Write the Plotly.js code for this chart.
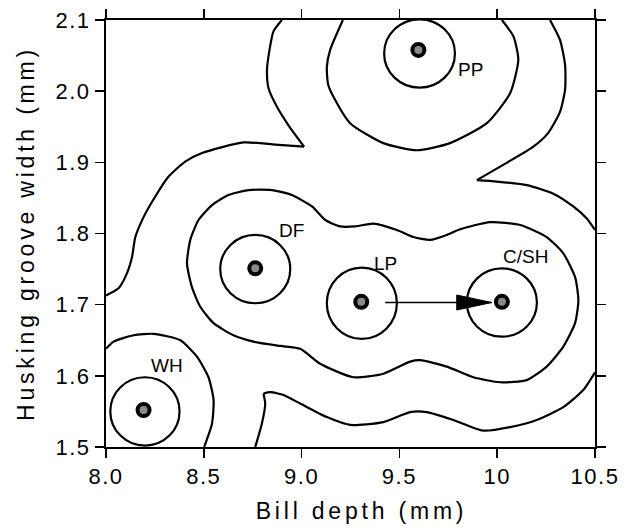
<!DOCTYPE html>
<html>
<head>
<meta charset="utf-8">
<script src="https://cdn.plot.ly/plotly-3.0.1.min.js"></script>
<style>
  html, body { margin: 0; padding: 0; background: #fff; }
  #chart { width: 624px; height: 531px; }
  .xtitle, .ytitle { letter-spacing: 3.8px; }
  .xtitle { transform: translate(11px, 0px); }
  .xtick text, .ytick text { letter-spacing: 1.5px; }
</style>
</head>
<body>
<div id="chart"></div>
<script>
// ---- Data ----
const popNames = ['PP', 'DF', 'LP', 'C/SH', 'WH'];
const popX = [9.597, 8.763, 9.305, 10.024, 8.192];
const popY = [2.058, 1.751, 1.704, 1.704, 1.552];
const labelX = [9.862, 8.947, 9.429, 10.145, 8.312];
const labelY = [2.031, 1.804, 1.758, 1.767, 1.614];

// innermost contour rings round each population
const ringCx = [9.603, 8.763, 9.308, 10.024, 8.199];
const ringCy = [2.053, 1.750, 1.702, 1.703, 1.550];
const ringRx = [0.181, 0.179, 0.179, 0.179, 0.177];
const ringRy = [0.048, 0.048, 0.050, 0.048, 0.048];

// outer contour, left piece (top edge -> cusp -> left edge)
const outerLeftX = [8.899, 8.856, 8.836, 8.823, 8.831, 8.874, 8.933, 9.013, 8.865, 8.703, 8.491, 8.405, 8.320, 8.252, 8.192, 8.150, 8.133, 8.107, 8.064, 8.000];
const outerLeftY = [2.100, 2.084, 2.058, 2.030, 2.004, 1.978, 1.952, 1.922, 1.925, 1.928, 1.913, 1.901, 1.880, 1.852, 1.823, 1.795, 1.767, 1.744, 1.723, 1.713];

// outer contour, right piece (top edge -> cusp -> right edge)
const outerRightX = [10.270, 10.321, 10.347, 10.347, 10.321, 10.260, 10.185, 10.015, 9.896, 9.998, 10.151, 10.287, 10.389, 10.458, 10.500];
const outerRightY = [2.100, 2.072, 2.037, 2.002, 1.971, 1.941, 1.922, 1.894, 1.875, 1.873, 1.868, 1.856, 1.838, 1.821, 1.805];

// middle contour round PP (top edge -> top edge)
const ppMidX = [9.211, 9.146, 9.129, 9.136, 9.163, 9.248, 9.418, 9.589, 9.759, 9.947, 10.066, 10.108, 10.083, 10.024];
const ppMidY = [2.100, 2.058, 2.034, 2.009, 1.992, 1.955, 1.927, 1.917, 1.927, 1.955, 1.997, 2.044, 2.077, 2.100];

// middle contour enclosing DF, LP and C/SH (closed loop)
const midLoopX = [8.414, 8.431, 8.473, 8.542, 8.626, 8.729, 8.848, 8.950, 9.053, 9.121, 9.197, 9.274, 9.367, 9.487, 9.572, 9.657, 9.742, 9.810, 9.964, 10.118, 10.253, 10.338, 10.398, 10.415, 10.398, 10.338, 10.253, 10.151, 10.015, 9.878, 9.742, 9.606, 9.555, 9.418, 9.265, 9.095, 8.993, 8.891, 8.754, 8.652, 8.550, 8.482, 8.439, 8.414];
const midLoopY = [1.758, 1.791, 1.819, 1.840, 1.854, 1.861, 1.861, 1.854, 1.838, 1.819, 1.810, 1.810, 1.814, 1.805, 1.795, 1.791, 1.798, 1.806, 1.816, 1.812, 1.795, 1.772, 1.739, 1.706, 1.674, 1.641, 1.613, 1.594, 1.591, 1.598, 1.613, 1.622, 1.620, 1.603, 1.598, 1.617, 1.638, 1.642, 1.648, 1.657, 1.674, 1.697, 1.725, 1.758];

// middle contour round WH (left edge -> bottom edge)
const whMidX = [8.000, 8.039, 8.141, 8.243, 8.380, 8.465, 8.524, 8.550, 8.542, 8.502];
const whMidY = [1.638, 1.648, 1.657, 1.659, 1.650, 1.627, 1.598, 1.566, 1.533, 1.500];

// outer contour, lower piece (bottom edge -> notch -> right edge)
const outerLowX = [8.763, 8.797, 8.814, 8.805, 8.840, 8.908, 8.993, 9.129, 9.248, 9.418, 9.555, 9.640, 9.776, 9.929, 10.066, 10.202, 10.338, 10.440, 10.500];
const outerLowY = [1.500, 1.533, 1.561, 1.575, 1.577, 1.573, 1.561, 1.542, 1.531, 1.535, 1.549, 1.549, 1.538, 1.523, 1.528, 1.538, 1.556, 1.580, 1.605];

// index of the sharp corner in each contour piece (-1 = none)
const cornerIndex = { outerLeft: 7, outerRight: 8, ppMid: -1, midLoop: -1, whMid: -1, outerLow: 3 };

// arrow LP -> C/SH
const arrowFrom = [9.427, 1.703];
const arrowTo = [9.972, 1.703];

// axes
const xTickVals = [8.0, 8.5, 9.0, 9.5, 10.0, 10.5];
const xTickText = ['8.0', '8.5', '9.0', '9.5', '10', '10.5'];
const yTickVals = [1.5, 1.6, 1.7, 1.8, 1.9, 2.0, 2.1];
const yTickText = ['1.5', '1.6', '1.7', '1.8', '1.9', '2.0', '2.1'];

// ---- Build the figure ----
const FONT = 'Liberation Sans, Arial, Helvetica, sans-serif';
const lineStyle = { color: '#000', width: 2.2, shape: 'spline', smoothing: 0.6 };

const contourSets = [
  ['outerLeft', outerLeftX, outerLeftY],
  ['outerRight', outerRightX, outerRightY],
  ['ppMid', ppMidX, ppMidY],
  ['midLoop', midLoopX, midLoopY],
  ['whMid', whMidX, whMidY],
  ['outerLow', outerLowX, outerLowY]
];

const traces = [];
contourSets.forEach(([key, xs, ys]) => {
  const k = cornerIndex[key];
  const parts = k > 0 ? [[0, k + 1], [k, xs.length]] : [[0, xs.length]];
  parts.forEach(([a, b]) => {
    traces.push({
      type: 'scatter', mode: 'lines', x: xs.slice(a, b), y: ys.slice(a, b),
      line: lineStyle, hoverinfo: 'skip', showlegend: false
    });
  });
});

traces.push({
  type: 'scatter', mode: 'markers', x: popX, y: popY, text: popNames,
  marker: { size: 12, color: '#8a8a8a', line: { color: '#000', width: 4 } },
  showlegend: false, cliponaxis: false
});

const shapes = ringCx.map((cx, i) => ({
  type: 'circle', xref: 'x', yref: 'y', layer: 'below',
  x0: cx - ringRx[i], x1: cx + ringRx[i],
  y0: ringCy[i] - ringRy[i], y1: ringCy[i] + ringRy[i],
  line: { color: '#000', width: 2.2 }
}));

shapes.push({
  type: 'line', xref: 'x', yref: 'y',
  x0: arrowFrom[0], y0: arrowFrom[1], x1: arrowTo[0], y1: arrowTo[1],
  line: { color: '#000', width: 1.5 }
});
shapes.push({
  type: 'path', xref: 'x', yref: 'y', xsizemode: 'pixel', ysizemode: 'pixel',
  xanchor: arrowTo[0], yanchor: arrowTo[1],
  path: 'M-35,-7.5 L0,0 L-35,7.5 Z',
  fillcolor: '#000', line: { color: '#000', width: 1 }
});

const annotations = popNames.map((name, i) => ({
  x: labelX[i], y: labelY[i], xref: 'x', yref: 'y', text: name,
  showarrow: false, font: { family: FONT, size: 19, color: '#000' }
}));

const axisCommon = {
  showline: true, linecolor: '#000', linewidth: 2, mirror: 'ticks',
  ticks: 'outside', ticklen: 9, tickwidth: 1.5, tickcolor: '#000',
  showgrid: false, zeroline: false,
  tickfont: { family: FONT, size: 22, color: '#000' }
};

const layout = {
  width: 624, height: 531,
  margin: { l: 106, r: 29, t: 20, b: 84 },
  paper_bgcolor: '#fff', plot_bgcolor: '#fff',
  font: { family: FONT, color: '#000' },
  xaxis: Object.assign({}, axisCommon, {
    range: [8.0, 10.5], tickmode: 'array', tickvals: xTickVals, ticktext: xTickText,
    title: { text: 'Bill depth (mm)', font: { family: FONT, size: 23, color: '#000' }, standoff: 14 }
  }),
  yaxis: Object.assign({}, axisCommon, {
    range: [1.5, 2.1], tickmode: 'array', tickvals: yTickVals, ticktext: yTickText,
    title: { text: 'Husking groove width (mm)', font: { family: FONT, size: 23, color: '#000' }, standoff: 14 }
  }),
  shapes: shapes,
  annotations: annotations,
  showlegend: false
};

Plotly.newPlot('chart', traces, layout, { displayModeBar: false, staticPlot: true });
</script>
</body>
</html>
